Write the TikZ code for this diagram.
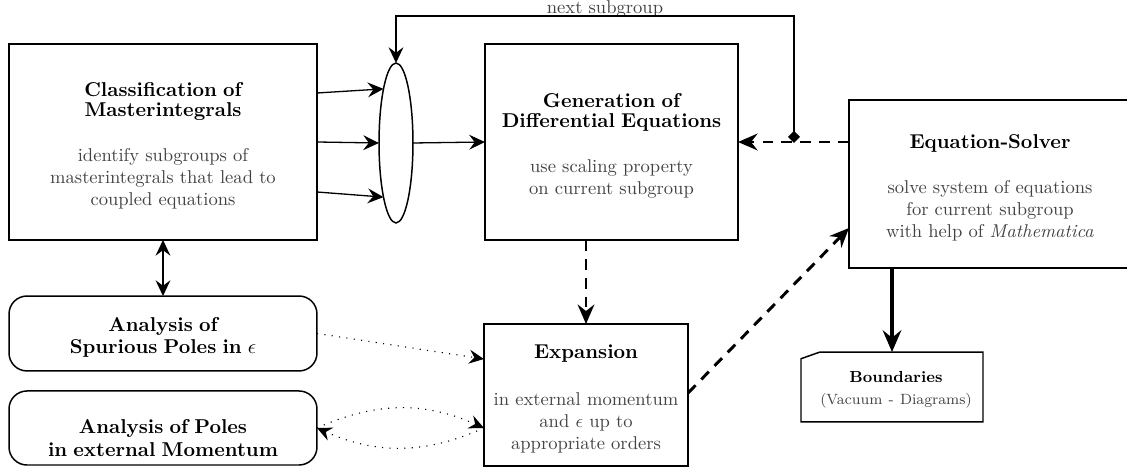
\documentclass[tikz,border=0pt]{standalone}
\usetikzlibrary{arrows.meta,calc,shapes.geometric}
\definecolor{bodygray}{gray}{0.26}
\newcommand{\ttlf}{\fontsize{10.8}{10.6}\selectfont\bfseries}
\newcommand{\ttlg}{\fontsize{10.8}{12}\selectfont\bfseries}
\newcommand{\bodytxt}[2][12.4pt]{\par\vspace{#1}{\normalfont\fontsize{10}{11.9}\selectfont\color{bodygray}#2\par}}
\newcommand{\topgap}[1]{\rule{0pt}{#1}}
\begin{document}
\begin{tikzpicture}[x=0.539pt,y=-0.539pt,
  every node/.style={inner sep=0pt, outer sep=0pt},
  box/.style={draw, line width=0.8pt, align=center},
  rbox/.style={box, rounded corners=9.7pt},
  plainline/.style={line width=0.7pt},
  thintip/.style={},
  thinarrow/.style={plainline, -{Stealth[length=8.5pt,width=8pt,inset=3pt]}},
  dashedarrow/.style={line width=1.6pt, dash pattern=on 5.8pt off 4.4pt, -{Stealth[length=10.5pt,width=9pt,inset=3.5pt]}},
  thickarrow/.style={line width=2pt, -{Stealth[length=11.7pt,width=10pt,inset=4pt]}},
  dotarrow/.style={line width=0.6pt, dash pattern=on 0.6pt off 3.4pt, -{Stealth[length=8pt,width=7.5pt,inset=2.8pt]}}
]
\useasboundingbox (0,0) rectangle (1127,470);

% boxes
\node[box, text width=166pt, minimum height=105.6pt] (class) at (163,142)
  {\topgap{12pt}\ttlf Classification of\\Masterintegrals\bodytxt{identify subgroups of\\masterintegrals that lead to\\coupled equations}};
\node[draw, line width=0.8pt, ellipse, minimum width=18.3pt, minimum height=86.2pt] (ell) at (396,143) {};
\node[box, text width=136.4pt, minimum height=105.6pt] (gen) at (611.5,142)
  {\topgap{11.8pt}\ttlf Generation of\\Differential Equations\bodytxt{use scaling property\\on current subgroup}};
\node[box, text width=152pt, minimum height=90.6pt] (solver) at (990,184)
  {\topgap{11.8pt}\ttlf Equation-Solver\bodytxt{solve system of equations\\for current subgroup\\with help of \textit{Mathematica}}};
\node[box, text width=110pt, minimum height=76.5pt] (exp) at (586,395)
  {\topgap{11.8pt}\ttlf Expansion\bodytxt[13.6pt]{in external momentum\\and $\epsilon$ up to\\appropriate orders}};
\node[align=center, text width=98.1pt, minimum height=37.7pt] (bound) at (892,387)
  {\fontsize{8.64}{12}\selectfont\bfseries\rule{0pt}{8.8pt}\hspace*{4.3pt}Boundaries\par{\normalfont\fontsize{8}{12}\selectfont\color{bodygray}\hspace*{4.3pt}(Vacuum - Diagrams)\par}};
\draw[line width=0.8pt] (bound.south west) -- ($(bound.north west)+(0,6.7)$) -- ($(bound.north west)+(19,0)$) -- (bound.north east) -- (bound.south east) -- cycle;
\node[rbox, text width=166pt, minimum height=40.4pt] (spur) at (163,333.5)
  {\topgap{11.8pt}\ttlg Analysis of\\Spurious Poles in $\epsilon$};
\node[rbox, text width=166pt, minimum height=39.9pt] (poles) at (163,428)
  {\topgap{18.3pt}\ttlg Analysis of Poles\\in external Momentum};

% label
\node[anchor=base, text=bodygray, font=\fontsize{10}{12}\selectfont] (nxt) at (605,14) {next subgroup};

% connectors
\draw[thinarrow] ($(class.east)+(0,-49)$) -- (ell.103);
\draw[thinarrow] (class.east) -- (ell.west);
\draw[thinarrow] ($(class.east)+(0,50)$) -- (ell.257);
\draw[thinarrow] (ell.east) -- (gen.west);
\coordinate (dj) at (794,143);
\draw[dashedarrow] (solver.west |- gen.east) -- (gen.east);
\draw[plainline, {Diamond[length=6.5pt,width=6.5pt]}-{Stealth[length=8.5pt,width=8pt,inset=3pt]}] (dj) -- ++(0,-127) -| (ell.north);
\draw[dashedarrow] (gen.south -| exp.north) -- (exp.north);
\draw[dashedarrow] ($(exp.east)+(0,-2)$) -- ($(solver.west)+(0,44)$);
\draw[thickarrow] (solver.south -| bound.north) -- (bound.north);
\draw[plainline, {Stealth[length=8.5pt,width=8pt,inset=3pt]}-{Stealth[length=8.5pt,width=8pt,inset=3pt]}] (class.south) -- (spur.north);
\draw[dotarrow] (spur.east) -- ($(exp.west)+(0,-36)$);
\draw[dotarrow] (poles.east) to[bend left=24] (exp.west |- poles.east);
\draw[dotarrow] (exp.west |- poles.east) to[bend left=24] (poles.east);
\end{tikzpicture}
\end{document}
